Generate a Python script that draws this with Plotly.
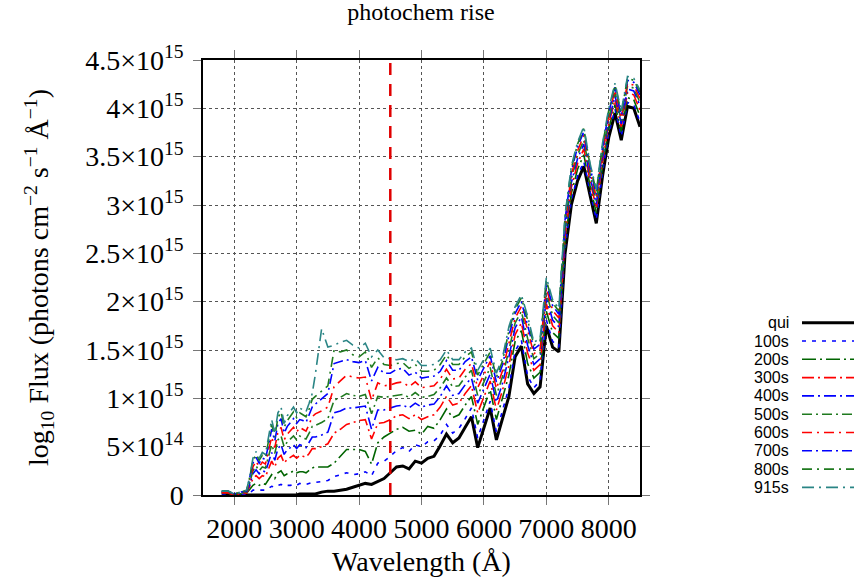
import plotly.graph_objects as go

# ---------------- data (flux in units of 1e13 photons cm^-2 s^-1 A^-1) ----------------
wavelength = [1800, 1900, 2000, 2100,
              2200, 2250, 2300, 2350, 2400, 2450, 2500, 2550, 2600, 2650, 2700, 2750,
              2800, 2850, 2900, 2950, 3000, 3050, 3100, 3150, 3200, 3250, 3300,
              3400, 3500, 3600, 3700, 3800, 3900, 4000, 4100, 4200, 4300,
              4400, 4500, 4600, 4700, 4800, 4900, 5000, 5100, 5200, 5300,
              5400, 5500, 5600, 5700, 5800, 5900, 6000, 6100, 6200, 6300,
              6400, 6500, 6600, 6700, 6800, 6900, 7000, 7100, 7200, 7300,
              7400, 7500, 7600, 7700, 7800, 7900, 8000, 8100, 8200, 8300, 8400, 8500]

qui = [1, 1, 0, 0,
       0, 0, 0, 0, 0, 0, 0, 0, 0, 0, 0, 0, 0, 0, 0, 0, 0, 1, 1, 1, 1, 1, 1,
       3, 4, 4, 5, 6, 8, 10, 12, 11, 14,
       17, 23, 29, 30, 27, 35, 33, 38, 40, 51,
       63, 54, 59, 70, 81, 49, 70, 90, 57, 81,
       102, 143, 154, 115, 105, 112, 175, 153, 148, 250,
       300, 325, 340, 310, 281, 330, 370, 395, 367, 402, 400, 381]

s100 = [1, 1, 0, 0,
        1, 2, 5, 5, 5, 5, 5, 7, 9, 8, 10, 11, 9, 10, 10, 11, 10, 12, 11, 11, 12, 13, 13,
        14, 15, 19, 21, 23, 21, 22, 24, 20, 33,
        35, 40, 46, 49, 45, 52, 50, 55, 56, 62,
        73, 64, 69, 79, 90, 59, 78, 97, 65, 88,
        111, 149, 160, 123, 111, 118, 181, 159, 153, 255,
        305, 330, 345, 314, 285, 334, 374, 399, 371, 406, 404, 386]

s200 = [2, 2, 0, 1,
        2, 6, 10, 12, 10, 12, 11, 16, 21, 17, 23, 25, 20, 22, 23, 25, 23, 24, 24, 23, 26, 28, 29,
        29, 29, 33, 40, 47, 47, 47, 45, 32, 54,
        60, 64, 68, 70, 66, 67, 63, 71, 69, 78,
        89, 80, 83, 93, 102, 73, 91, 109, 78, 100,
        124, 159, 170, 136, 121, 127, 190, 168, 162, 262,
        312, 337, 352, 320, 292, 340, 379, 404, 376, 411, 409, 392]

s300 = [2, 2, 0, 1,
        2, 9, 17, 20, 17, 20, 19, 27, 35, 29, 38, 41, 33, 37, 39, 41, 38, 41, 40, 39, 43, 48, 48,
        50, 53, 64, 68, 73, 75, 77, 78, 58, 74,
        75, 78, 82, 83, 79, 83, 78, 81, 83, 91,
        102, 93, 95, 105, 113, 85, 102, 118, 88, 109,
        134, 166, 178, 147, 129, 135, 198, 175, 168, 268,
        318, 343, 358, 325, 297, 345, 384, 409, 381, 416, 414, 398]

s400 = [3, 3, 1, 2,
        3, 11, 22, 26, 22, 25, 24, 34, 44, 36, 48, 52, 42, 47, 49, 52, 48, 52, 51, 49, 55, 60, 60,
        62, 65, 85, 87, 90, 90, 91, 92, 68, 88,
        88, 90, 92, 93, 90, 95, 91, 93, 94, 102,
        113, 103, 105, 114, 121, 95, 110, 125, 96, 116,
        143, 173, 184, 155, 135, 141, 204, 181, 174, 273,
        323, 348, 363, 329, 301, 349, 387, 413, 384, 420, 418, 403]

s500 = [3, 3, 1, 2,
        3, 13, 25, 30, 25, 29, 28, 40, 52, 43, 57, 61, 50, 55, 58, 61, 57, 61, 59, 58, 64, 71, 72,
        75, 79, 98, 101, 105, 103, 102, 104, 84, 102,
        101, 102, 103, 104, 101, 106, 101, 102, 104, 111,
        121, 112, 113, 122, 129, 103, 117, 132, 103, 123,
        150, 178, 190, 162, 141, 146, 209, 186, 178, 277,
        327, 352, 367, 332, 304, 353, 390, 416, 387, 423, 421, 406]

s600 = [3, 3, 1, 2,
        4, 15, 29, 35, 29, 34, 32, 46, 60, 49, 65, 70, 57, 63, 66, 70, 65, 70, 68, 66, 73, 81, 84,
        87, 91, 112, 118, 124, 122, 121, 122, 98, 116,
        113, 114, 116, 117, 112, 117, 111, 112, 113, 120,
        130, 120, 121, 130, 136, 111, 124, 138, 110, 129,
        157, 183, 195, 169, 146, 151, 214, 191, 183, 281,
        331, 356, 372, 335, 308, 356, 393, 419, 390, 426, 424, 410]

s700 = [4, 4, 1, 3,
        4, 17, 33, 39, 33, 38, 37, 52, 68, 56, 74, 79, 64, 71, 75, 79, 74, 78, 77, 75, 83, 91, 94,
        100, 105, 136, 138, 140, 138, 137, 139, 118, 132,
        126, 126, 130, 131, 124, 127, 121, 122, 123, 128,
        139, 129, 129, 138, 143, 119, 131, 144, 117, 135,
        165, 188, 200, 176, 151, 156, 219, 196, 187, 285,
        335, 360, 376, 339, 311, 360, 396, 422, 393, 429, 427, 414]

s800 = [4, 4, 1, 3,
        5, 19, 36, 42, 36, 41, 39, 56, 73, 60, 80, 86, 70, 77, 81, 86, 80, 85, 83, 81, 89, 99, 102,
        108, 113, 150, 148, 150, 145, 143, 148, 132, 142,
        135, 134, 136, 137, 131, 135, 128, 128, 129, 135,
        145, 135, 135, 143, 148, 124, 136, 148, 122, 139,
        170, 192, 204, 181, 155, 159, 222, 199, 190, 288,
        338, 363, 379, 341, 314, 362, 398, 424, 395, 431, 429, 417]

s915 = [4, 4, 1, 3,
        5, 20, 38, 45, 38, 44, 42, 60, 78, 64, 85, 91, 74, 82, 86, 91, 85, 90, 88, 86, 95, 105, 125,
        172, 153, 155, 158, 160, 155, 152, 157, 143, 150,
        142, 141, 140, 141, 138, 141, 134, 134, 135, 140,
        150, 140, 140, 148, 152, 129, 140, 152, 126, 143,
        174, 195, 207, 185, 158, 162, 225, 202, 193, 290,
        340, 365, 381, 343, 316, 364, 400, 426, 397, 433, 431, 419]

flux_unit = 1e13
series_names = ["qui", "100s", "200s", "300s", "400s", "500s", "600s", "700s", "800s", "915s"]
series_values = [qui, s100, s200, s300, s400, s500, s600, s700, s800, s915]

cutoff_wavelength = 4500
y_max = 4.5e15
x_min, x_max = 1500, 8500

x_ticks = [2000, 3000, 4000, 5000, 6000, 7000, 8000]
y_ticks = [0, 5e14, 1e15, 1.5e15, 2e15, 2.5e15, 3e15, 3.5e15, 4e15, 4.5e15]
y_tick_text = ["0", "5×10<sup>14</sup>", "1×10<sup>15</sup>", "1.5×10<sup>15</sup>",
               "2×10<sup>15</sup>", "2.5×10<sup>15</sup>", "3×10<sup>15</sup>",
               "3.5×10<sup>15</sup>", "4×10<sup>15</sup>", "4.5×10<sup>15</sup>"]

# ---------------- styles ----------------
colors = ["#000000", "#0000ff", "#006400", "#ff0000", "#0000ff",
          "#1f7a1f", "#ff0000", "#0000ff", "#1f7a1f", "#2a8585"]
dashes = ["solid", "4px,6px", "14px,4px,2px,4px", "12px,4px,2px,4px", "12px,4px,2px,4px",
          "10px,4px,2px,4px", "10px,5px,2px,5px", "10px,4px,2px,4px", "10px,5px,2px,5px", "12px,5px,2px,5px"]
widths = [3, 1.6, 1.6, 1.6, 1.6, 1.6, 1.6, 1.6, 1.6, 1.6]

SERIF = "Liberation Serif, Times New Roman, serif"
SANS = "Liberation Sans, Arial, sans-serif"

fig = go.Figure()
for name, vals, c, d, w in zip(series_names, series_values, colors, dashes, widths):
    fig.add_trace(go.Scatter(
        x=wavelength, y=[v * flux_unit for v in vals], mode="lines", name=name,
        line=dict(color=c, dash=d, width=w), showlegend=False))

fig.add_trace(go.Scatter(
    x=[cutoff_wavelength, cutoff_wavelength], y=[0, y_max], mode="lines",
    line=dict(color="#e00000", dash="12px,9px", width=2.5), showlegend=False))

# plot-area geometry (px)
L, R, T, B = 203, 640, 60, 495
W, H = 857, 586
pw, ph = R - L, B - T

# custom legend: label on the left, line sample on the right
shapes = []
annotations = []
row0, step = 322.7, 18.3
for i, (name, c, d, w) in enumerate(zip(series_names, colors, dashes, widths)):
    py = row0 + i * step
    yp = (B - py) / ph
    annotations.append(dict(
        text=name, xref="paper", yref="paper", x=(791 - L) / pw, y=yp,
        xanchor="right", yanchor="middle", showarrow=False,
        font=dict(family=SANS, size=16, color="black")))
    shapes.append(dict(
        type="line", xref="paper", yref="paper",
        x0=(802 - L) / pw, x1=(854 - L) / pw, y0=yp, y1=yp,
        line=dict(color=c, dash=d, width=w)))

axis_common = dict(
    showline=True, linecolor="black", linewidth=1.5, mirror="allticks",
    ticks="outside", ticklen=8, tickcolor="#777", tickwidth=1,
    showgrid=True, gridcolor="#555", griddash="dot", gridwidth=1,
    zeroline=False, tickfont=dict(family=SERIF, size=28, color="black"),
)

fig.update_layout(
    width=W, height=586, margin=dict(l=L, r=W - R, t=T, b=H - B),
    plot_bgcolor="white", paper_bgcolor="white",
    font=dict(family=SERIF, color="black"),
    title=dict(text="photochem rise", x=421 / W, xanchor="center",
               y=1 - 12 / H, yanchor="middle", yref="container",
               font=dict(family=SERIF, size=24, color="black")),
    xaxis=dict(range=[x_min, x_max], tickvals=x_ticks,
               title=dict(text="Wavelength (Å)", standoff=8,
                          font=dict(family=SERIF, size=28, color="black")),
               **axis_common),
    yaxis=dict(range=[0, y_max], tickvals=y_ticks, ticktext=y_tick_text,
               ticklabelstandoff=4,
               title=dict(text="log<sub>10</sub> Flux (photons cm<sup>−2</sup> s<sup>−1</sup> Å<sup>−1</sup>)",
                          standoff=28, font=dict(family=SERIF, size=28, color="black")),
               **axis_common),
    shapes=shapes, annotations=annotations,
)

fig.write_html("out.html")
